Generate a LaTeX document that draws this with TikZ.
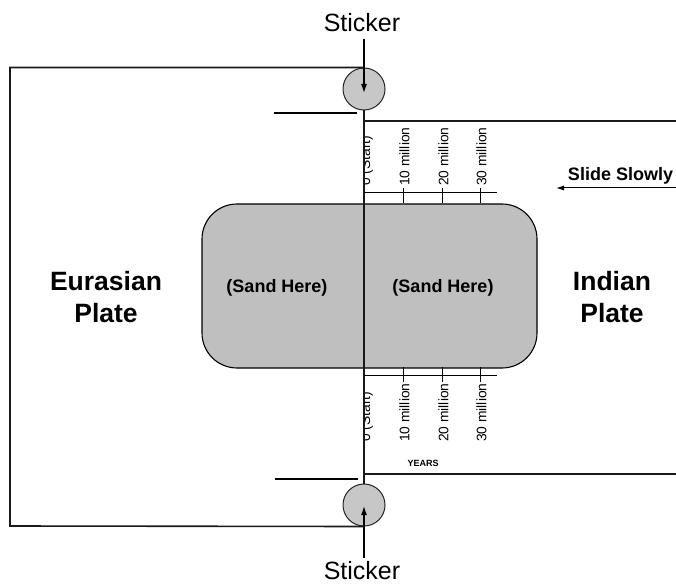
\documentclass[tikz,border=0pt]{standalone}
\usepackage{fontspec}
\setmainfont{Liberation Sans}
\usetikzlibrary{arrows.meta}
\tikzset{
  line/.style={line width=1.6pt, draw=black!90},
  sticker/.style={circle, draw=black!85, line width=1pt, fill=black!22, minimum size=42pt, inner sep=0pt},
  tip/.style={-{Latex[length=9pt,width=6pt]}, line width=1.2pt},
  tick/.style={line width=1pt},
  ticklabel/.style={rotate=90, anchor=west, inner sep=0pt, font=\fontsize{13.8}{14}\selectfont},
  big/.style={font=\fontsize{26.5}{32}\selectfont\bfseries, align=center, anchor=base},
  sand/.style={font=\fontsize{18}{20}\selectfont\bfseries},
  stlab/.style={font=\fontsize{25}{28}\selectfont, anchor=base},
}
\begin{document}
\begin{tikzpicture}[x=1pt,y=-1pt]
\useasboundingbox (0,0) rectangle (676,585);
% sand box
\draw[line width=1.1pt, fill=black!25, rounded corners=35pt] (202,204) rectangle (537,368);
\node[sand] (sandL) at (277,288) {(Sand Here)};
\node[sand] (sandR) at (443,288) {(Sand Here)};
% stickers
\node[sticker] (st1) at (364,89) {};
\node[sticker] (st2) at (364,505) {};
\node[stlab] (lab1) at (362,32) {Sticker};
\node[stlab] (lab2) at (362,579) {Sticker};
\coordinate (a1) at (364,39);
\coordinate (a2) at (364,558);
\coordinate (t1) at (364,93);
\coordinate (t2) at (364,506);
\draw[tip] (a1) -- (t1);
\draw[tip] (a2) -- (t2);
% Eurasian plate outline
\draw[line] (st1.north) -| (10,526) -- (st2.south);
\draw[line] (st1.south) -- (st2.north);
% short lines
\coordinate (sa) at (274,113); \coordinate (sb) at (357,113);
\draw[line width=1.3pt] (sa) -- (sb);
\coordinate (sc) at (275,479); \coordinate (sd) at (358,479);
\draw[line width=1.3pt] (sc) -- (sd);
% Indian plate lines
\coordinate (ia) at (364,121); \coordinate (ib) at (676,121);
\coordinate (ic) at (364,474); \coordinate (id) at (676,474);
\draw[line] (ia) -- (ib);
\draw[line] (ic) -- (id);
% top scale
\coordinate (ax1) at (364,193); \coordinate (ax2) at (497,193);
\draw[tick] (ax1) -- (ax2);
\foreach \x in {403,442,480} {\draw[tick] (\x,188) -- (\x,203);}
\begin{scope}
\clip (365,100) rectangle (500,470);
\node[ticklabel] (z1) at (366.5,186) {0 (Start)};
\node[ticklabel] (z2) at (366.5,442) {0 (Start)};
\end{scope}
\node[ticklabel] (a10) at (404.5,186) {10 million};
\node[ticklabel] (a20) at (443.5,186) {20 million};
\node[ticklabel] (a30) at (481.5,186) {30 million};
% bottom scale
\coordinate (bx1) at (364,375); \coordinate (bx2) at (497,375);
\draw[tick] (bx1) -- (bx2);
\foreach \x in {403,442,480} {\draw[tick] (\x,367) -- (\x,382);}
\node[ticklabel] (b10) at (404.5,442) {10 million};
\node[ticklabel] (b20) at (443.5,442) {20 million};
\node[ticklabel] (b30) at (481.5,442) {30 million};
\node[font=\fontsize{9}{10}\selectfont\bfseries, anchor=base] (years) at (423,466) {YEARS};
% labels
\node[big] (eur) at (106,322) {Eurasian\\Plate};
\node[big] (ind) at (612,322) {Indian\\Plate};
\node[font=\fontsize{18}{20}\selectfont\bfseries, anchor=base] (slide) at (620.5,181) {Slide Slowly};
\coordinate (sl1) at (676,188); \coordinate (sl2) at (556,188);
\draw[-{Latex[length=8pt,width=5pt]}, line width=1pt] (sl1) -- (sl2);
\end{tikzpicture}
\end{document}
